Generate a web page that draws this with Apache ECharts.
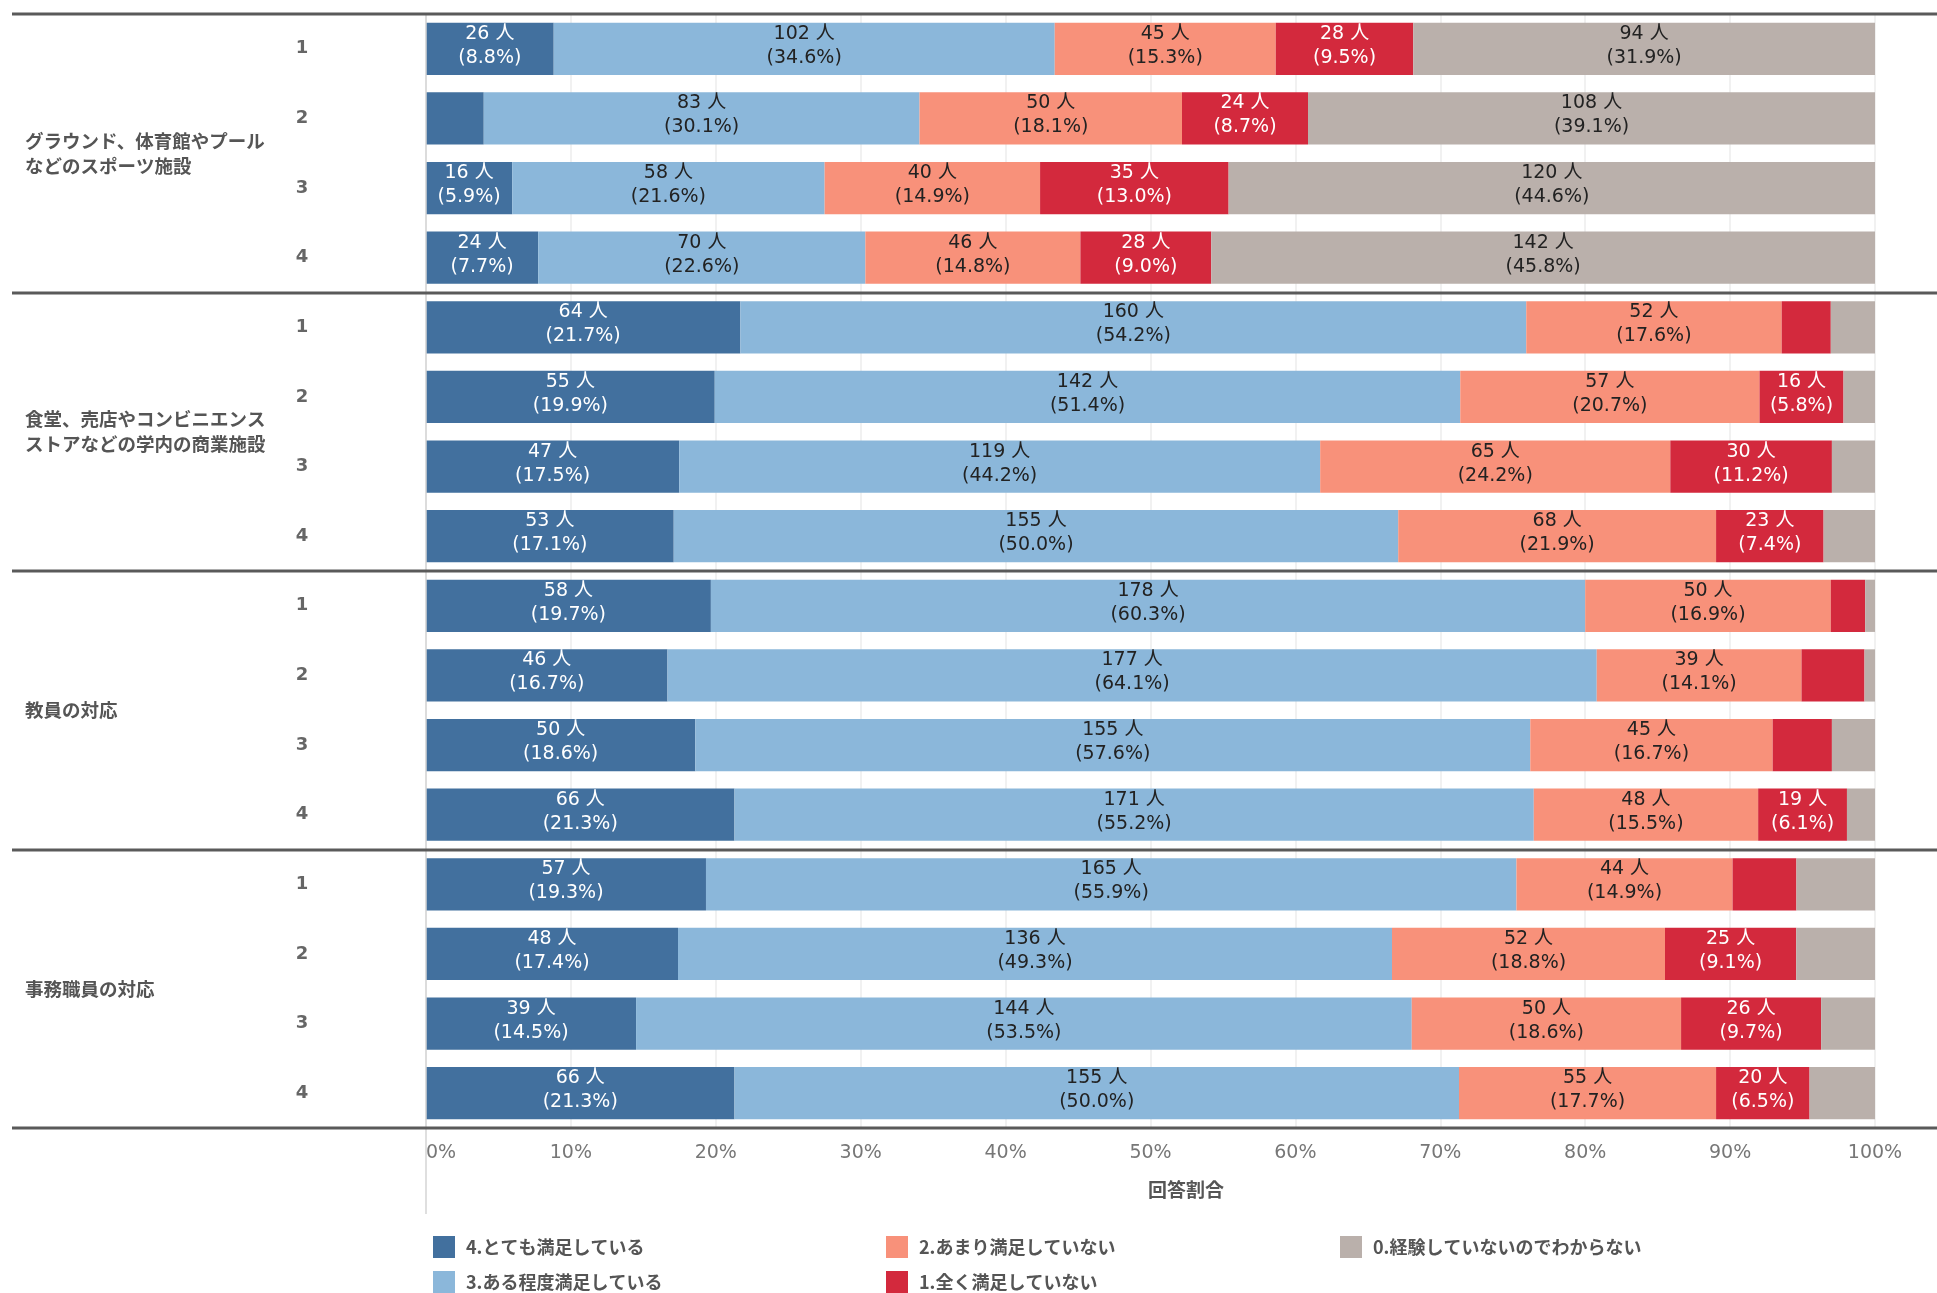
<!DOCTYPE html>
<html>
<head>
<meta charset="utf-8">
<script src="https://cdn.jsdelivr.net/npm/echarts@6/dist/echarts.min.js"></script>
<style>
  html, body { margin: 0; padding: 0; background: #fff; }
  #main { width: 1937px; height: 1293px; }
</style>
</head>
<body>
<div id="main"></div>
<script>
// 質問グループ（4問 × 4行）
var groups = [
  'グラウンド、体育館やプール\nなどのスポーツ施設',
  '食堂、売店やコンビニエンス\nストアなどの学内の商業施設',
  '教員の対応',
  '事務職員の対応'
];
var rowLabels = ['1', '2', '3', '4'];
var seriesNames = [
  '4.とても満足している',
  '3.ある程度満足している',
  '2.あまり満足していない',
  '1.全く満足していない',
  '0.経験していないのでわからない'
];
// 人数（グループ順に 1〜4 行）
var veryMuch  = [26, 11, 16, 24,   64, 55, 47, 53,    58, 46, 50, 66,    57, 48, 39, 66];
var somewhat  = [102, 83, 58, 70,  160, 142, 119, 155, 178, 177, 155, 171, 165, 136, 144, 155];
var notMuch   = [45, 50, 40, 46,   52, 57, 65, 68,    50, 39, 45, 48,    44, 52, 50, 55];
var notAtAll  = [28, 24, 35, 28,   10, 16, 30, 23,    7, 12, 11, 19,     13, 25, 26, 20];
var noExp     = [94, 108, 120, 142, 9, 6, 8, 11,      2, 2, 8, 6,        16, 15, 10, 14];
var xTicks = [0, 10, 20, 30, 40, 50, 60, 70, 80, 90, 100];

var counts = [veryMuch, somewhat, notMuch, notAtAll, noExp];
var colors = ['#42709e', '#8bb7da', '#f8917a', '#d3293d', '#bab0ab'];
var labelColors = ['#fff', '#222', '#222', '#fff', '#222'];

var rowKeys = [];
var totals = [];
for (var i = 0; i < veryMuch.length; i++) {
  rowKeys.push('r' + i);
  var t = 0;
  counts.forEach(function (c) { t += c[i]; });
  totals.push(t);
}

var gridTop = 14, gridBottom = 165, gridLeft = 426, gridRight = 62;
var W = 1937, H = 1293;
var plotH = H - gridTop - gridBottom;

var chart = echarts.init(document.getElementById('main'));

var series = counts.map(function (c, s) {
  return {
    name: seriesNames[s],
    type: 'bar',
    stack: 'total',
    barWidth: '75%',
    itemStyle: { color: colors[s] },
    label: {
      show: true,
      position: 'inside',
      offset: [0, -3],
      color: labelColors[s],
      fontFamily: 'DejaVu Sans, Noto Sans CJK JP',
      fontSize: 19,
      lineHeight: 24,
      formatter: function (p) {
        var cnt = c[p.dataIndex];
        var pct = cnt / totals[p.dataIndex] * 100;
        if (pct < 5.5) return '';
        return cnt + ' 人\n(' + pct.toFixed(1) + '%)';
      }
    },
    data: c.map(function (v, i) { return v / totals[i] * 100; })
  };
});

var lines = [];
for (var g = 0; g <= groups.length; g++) {
  var y = Math.round(gridTop + g * plotH / groups.length);
  lines.push({
    type: 'line',
    shape: { x1: 12, y1: y, x2: W, y2: y },
    style: { stroke: '#5a5a5a', lineWidth: 3 },
    z: 10
  });
}
lines.push({
  type: 'line',
  shape: { x1: gridLeft, y1: gridTop, x2: gridLeft, y2: 1214 },
  style: { stroke: '#d4d4d4', lineWidth: 1.5 },
  z: 5
});
lines.push({
  type: 'text',
  x: 1186,
  y: 1190,
  style: {
    text: '回答割合',
    fill: '#555',
    font: 'bold 19px "Noto Sans CJK JP"',
    textAlign: 'center',
    textVerticalAlign: 'middle'
  }
});

// 凡例：3列×2行（列ごとに上から）
var legendPos = [[428, 1231], [428, 1266], [881, 1231], [881, 1266], [1335, 1231]];
var legends = seriesNames.map(function (name, k) {
  return {
    left: legendPos[k][0],
    top: legendPos[k][1],
    itemWidth: 22,
    itemHeight: 22,
    icon: 'rect',
    textStyle: {
      color: '#555',
      fontFamily: 'Noto Sans CJK JP',
      fontWeight: 'bold',
      fontSize: 18,
      padding: [0, 0, 0, 6]
    },
    data: [name]
  };
});

chart.setOption({
  animation: false,
  backgroundColor: '#fff',
  grid: { left: gridLeft, right: gridRight, top: gridTop, bottom: gridBottom, containLabel: false },
  legend: legends,
  xAxis: {
    type: 'value',
    min: xTicks[0],
    max: xTicks[xTicks.length - 1],
    interval: xTicks[1] - xTicks[0],
    axisLine: { show: false },
    axisTick: { show: false },
    splitLine: { lineStyle: { color: '#ececec', width: 1.5 } },
    axisLabel: {
      color: '#777',
      fontFamily: 'DejaVu Sans',
      fontSize: 19,
      margin: 16,
      alignMinLabel: 'left',
      formatter: '{value}%'
    }
  },
  yAxis: [
    {
      type: 'category',
      inverse: true,
      data: rowKeys,
      axisLine: { show: false },
      axisTick: { show: false },
      axisLabel: {
        color: '#666',
        fontFamily: 'DejaVu Sans',
        fontWeight: 'bold',
        fontSize: 18,
        align: 'center',
        margin: 124,
        formatter: function (v, idx) { return rowLabels[idx % rowLabels.length]; }
      }
    },
    {
      type: 'category',
      inverse: true,
      position: 'left',
      offset: 0,
      data: groups,
      axisLine: { show: false },
      axisTick: { show: false },
      splitLine: { show: false },
      axisLabel: {
        color: '#555',
        fontFamily: 'Noto Sans CJK JP',
        fontWeight: 'bold',
        fontSize: 18.5,
        lineHeight: 25,
        align: 'left',
        margin: 401
      }
    }
  ],
  graphic: lines,
  series: series
});
</script>
</body>
</html>
